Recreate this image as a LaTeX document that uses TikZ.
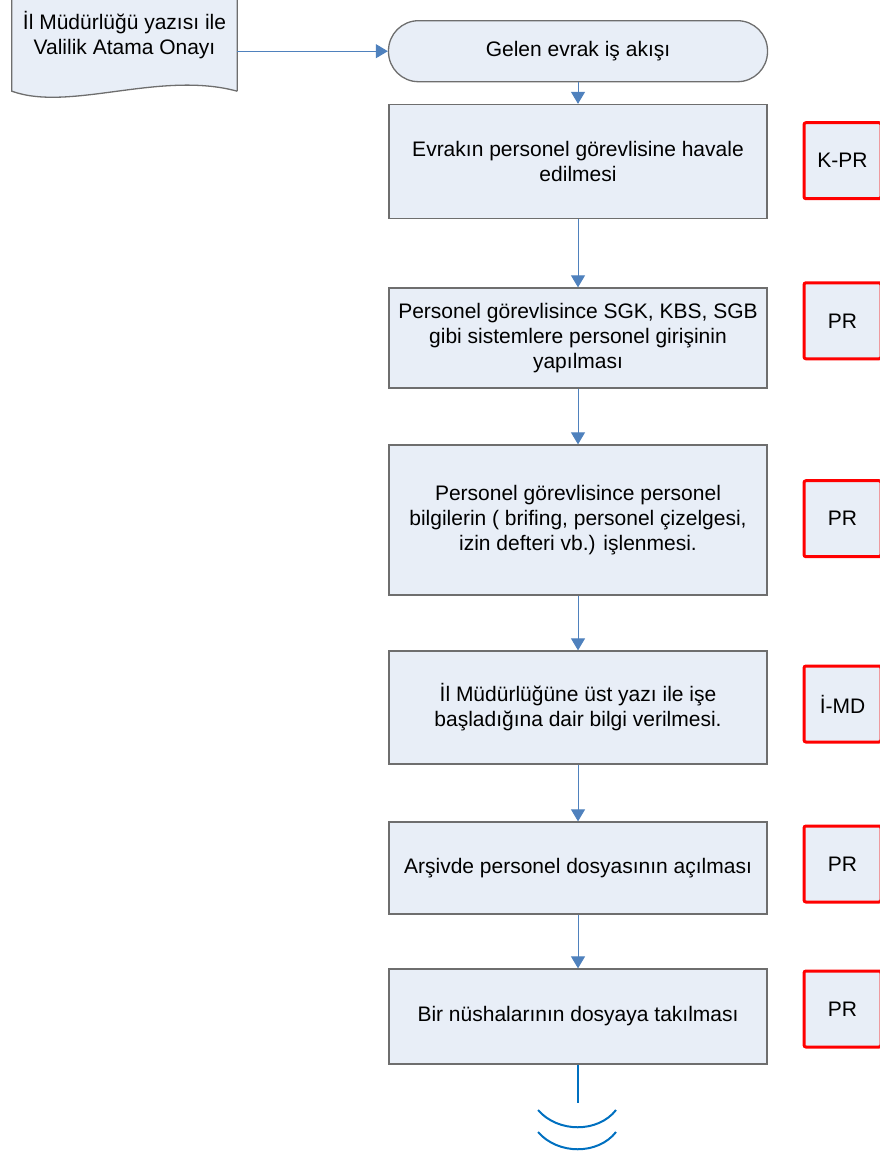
\documentclass[tikz,border=0pt]{standalone}
\usepackage{fontspec}
\setmainfont{Liberation Sans}
\usetikzlibrary{arrows.meta,backgrounds}
\definecolor{boxfill}{RGB}{232,238,247}
\definecolor{boxline}{RGB}{110,110,110}
\definecolor{arrowblue}{RGB}{79,129,189}
\definecolor{endblue}{RGB}{0,112,192}
\tikzset{
  txt/.style={font=\fontsize{21}{25}\selectfont, align=center, inner sep=0pt},
  proc/.style={txt, draw=boxline, line width=1.3pt, fill=boxfill, minimum width=378pt},
  term/.style={txt, draw=boxline, line width=1.3pt, fill=boxfill, minimum width=379pt, minimum height=61pt, rounded corners=30pt},
  resp/.style={txt, draw=red, line width=3pt, fill=boxfill, rounded corners=2pt, minimum width=77pt, minimum height=76pt},
  docshape/.style={draw=boxline, line width=1.3pt, fill=boxfill},
  flow/.style={draw=arrowblue, line width=1pt, -{Triangle[width=14pt,length=12pt]}},
  endline/.style={draw=endblue, line width=2pt}
}
\begin{document}
\begin{tikzpicture}[x=1pt,y=-1pt]
\useasboundingbox (0,0) rectangle (879,1156);
% document input
\node[txt, minimum width=225pt, minimum height=111pt] (doc) at (124.5,35.5) {İl Müdürlüğü yazısı ile\\Valilik Atama Onayı};
\begin{scope}[on background layer]
\draw[docshape] (doc.south east) -- (doc.north east) -- (doc.north west) -- (doc.south west)
  .. controls +(58,21) and +(-77,-21) .. (doc.south east);
\end{scope}
% terminal
\node[term] (t) at (578,51.2) {Gelen evrak iş akışı};
% process boxes
\node[proc, minimum height=114pt] (b1) at (578,161.5) {Evrakın personel görevlisine havale\\edilmesi};
\node[proc, minimum height=100pt] (b2) at (578,338) {Personel görevlisince SGK, KBS, SGB\\gibi sistemlere personel girişinin\\yapılması};
\node[proc, minimum height=150pt] (b3) at (578,520) {Personel görevlisince personel\\bilgilerin ( brifing, personel çizelgesi,\\izin defteri vb.) işlenmesi.};
\node[proc, minimum height=113pt] (b4) at (578,707.5) {İl Müdürlüğüne üst yazı ile işe\\başladığına dair bilgi verilmesi.};
\node[proc, minimum height=92pt] (b5) at (578,868) {Arşivde personel dosyasının açılması};
\node[proc, minimum height=95pt] (b6) at (578,1016.5) {Bir nüshalarının dosyaya takılması};
% responsibility boxes
\node[resp] (r1) at (842.5,160.7) {K-PR};
\node[resp] (r2) at (842.5,320.8) {PR};
\node[resp] (r3) at (842.5,518.7) {PR};
\node[resp] (r4) at (842.5,704) {İ-MD};
\node[resp] (r5) at (842.5,864) {PR};
\node[resp] (r6) at (842.5,1009) {PR};
% connectors
\draw[flow] (doc.east |- t.west) -- (t.west);
\draw[flow] (t) -- (b1);
\draw[flow] (b1) -- (b2);
\draw[flow] (b2) -- (b3);
\draw[flow] (b3) -- (b4);
\draw[flow] (b4) -- (b5);
\draw[flow] (b5) -- (b6);
% off-page continuation
\coordinate (e) at (578,1103);
\draw[endline] (b6.south) -- (e);
\draw[endline] (538,1110) .. controls (558,1133) and (598,1133) .. (616,1110);
\draw[endline] (538,1132) .. controls (558,1155) and (598,1155) .. (616,1132);
\end{tikzpicture}
\end{document}
